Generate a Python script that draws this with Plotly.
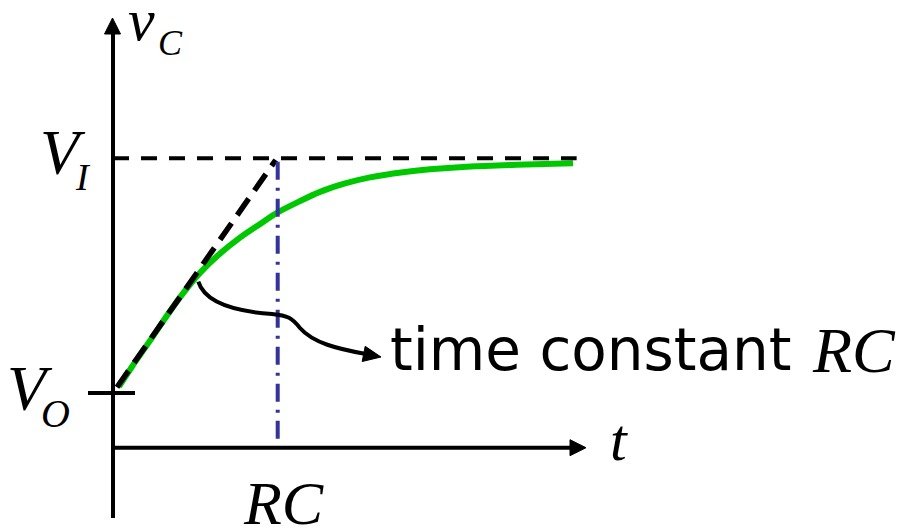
import plotly.graph_objects as go

# ---- chart values (time in units of RC, voltage normalised: axis = 0, V_I = 1) ----
t_curve = [0.036, 0.114, 0.225, 0.326, 0.425, 0.528, 0.650, 0.771, 0.893, 1.000,
           1.135, 1.257, 1.409, 1.560, 1.761, 1.925, 2.148, 2.451, 2.793]
v_curve = [0.211, 0.279, 0.370, 0.455, 0.533, 0.604, 0.671, 0.726, 0.773, 0.813,
           0.852, 0.884, 0.913, 0.934, 0.952, 0.962, 0.971, 0.978, 0.983]
t_tangent = [0.024, 0.988]
v_tangent = [0.209, 0.994]
V_I = 1.0
V_O = 0.189
RC = 1.0
t_end = 2.815

# ---- layout helpers: linear pixel <-> data mapping of the full-bleed plot area ----
W, H = 903, 527
PX0, PX_PER_T = 113.0, 164.7
PY0, PY_PER_V = 447.7, 289.4
def tx(px):
    return (px - PX0) / PX_PER_T
def vy(py):
    return (PY0 - py) / PY_PER_V

fig = go.Figure()

# green charging curve
fig.add_trace(go.Scatter(x=t_curve, y=v_curve, mode="lines",
                         line=dict(color="#00c800", width=6, shape="spline", smoothing=0.8),
                         hoverinfo="skip", showlegend=False))
# tangent (dashed)
fig.add_trace(go.Scatter(x=t_tangent, y=v_tangent, mode="lines",
                         line=dict(color="black", width=5.5, dash="20px,10px"),
                         hoverinfo="skip", showlegend=False))
# V_I level (dashed)
fig.add_trace(go.Scatter(x=[0, t_end], y=[V_I, V_I], mode="lines",
                         line=dict(color="black", width=4, dash="16px,12px"),
                         hoverinfo="skip", showlegend=False))
# RC marker (dash-dot)
fig.add_trace(go.Scatter(x=[RC, RC], y=[vy(161.7), 0], mode="lines",
                         line=dict(color="#333399", width=4, dash="18px,8px,3px,8px"),
                         hoverinfo="skip", showlegend=False))

shapes = []
# axes
shapes.append(dict(type="line", xref="x", yref="y", x0=0, x1=0, y0=vy(518), y1=vy(30),
                   line=dict(color="black", width=4)))
shapes.append(dict(type="line", xref="x", yref="y", x0=tx(111), x1=tx(572), y0=0, y1=0,
                   line=dict(color="black", width=4)))
# V_O tick
shapes.append(dict(type="line", xref="x", yref="y", x0=tx(88), x1=tx(135), y0=V_O, y1=V_O,
                   line=dict(color="black", width=4)))

def tri(p1, p2, p3):
    return "M {},{} L {},{} L {},{} Z".format(tx(p1[0]), vy(p1[1]), tx(p2[0]), vy(p2[1]),
                                              tx(p3[0]), vy(p3[1]))
# arrowheads
shapes.append(dict(type="path", xref="x", yref="y", path=tri((112.5, 18), (104.5, 34), (120.5, 34)),
                   fillcolor="black", line=dict(color="black", width=1)))
shapes.append(dict(type="path", xref="x", yref="y", path=tri((586, 447.7), (570, 439.7), (570, 455.7)),
                   fillcolor="black", line=dict(color="black", width=1)))
shapes.append(dict(type="path", xref="x", yref="y", path=tri((381, 357), (362.2, 361.5), (365.2, 346.3)),
                   fillcolor="black", line=dict(color="black", width=1)))

# curved pointer
def P(px, py):
    return "{},{}".format(tx(px), vy(py))
pointer = ("M " + P(198.3, 281.7) +
           " C " + P(204, 300) + " " + P(228, 311) + " " + P(272, 314) +
           " C " + P(288, 315.5) + " " + P(292, 318) + " " + P(300, 328) +
           " C " + P(313, 343) + " " + P(338, 349) + " " + P(366, 354))
shapes.append(dict(type="path", xref="x", yref="y", path=pointer,
                   line=dict(color="black", width=4)))

serif = "Liberation Serif, Times New Roman, serif"
ann = []
def label(text, px, py, size, family=serif, xanchor="left", italic=True):
    ann.append(dict(x=tx(px), y=vy(py), xref="x", yref="y", showarrow=False,
                    text=("<i>%s</i>" % text) if italic else text,
                    xanchor=xanchor, yanchor="middle",
                    font=dict(family=family, size=size, color="black")))

label("v", 126, 20, 60)
label("C", 156, 43, 36)
label("V", 38, 152, 64)
label("I", 73, 177, 38)
label("V", 5, 388, 64)
label("O", 39, 413, 40)
label("t", 608, 440, 60)
label("RC", 283, 503, 62, xanchor="center")
label("time constant", 388, 350, 58, family="DejaVu Sans, sans-serif", italic=False)
label("RC", 898, 350, 64, xanchor="right")

fig.update_layout(width=W, height=H, margin=dict(l=0, r=0, t=0, b=0),
                  paper_bgcolor="white", plot_bgcolor="white",
                  shapes=shapes, annotations=ann,
                  xaxis=dict(range=[tx(0), tx(W)], visible=False, fixedrange=True),
                  yaxis=dict(range=[vy(H), vy(0)], visible=False, fixedrange=True))

fig.write_html("out.html", config={"displayModeBar": False},
               post_script="document.body.style.margin='0';document.body.style.overflow='hidden';")
